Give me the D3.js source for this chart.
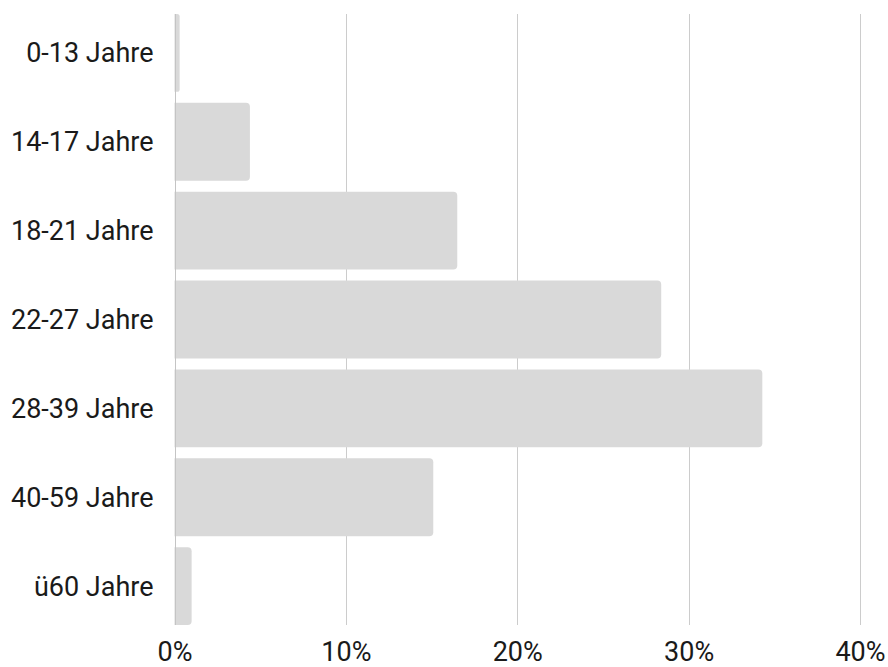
<!DOCTYPE html>
<html>
<head>
<meta charset="utf-8">
<script src="https://cdn.jsdelivr.net/npm/d3@7"></script>
<style>
  html, body { margin: 0; padding: 0; background: #fff; }
  svg { display: block; font-family: Roboto, "Noto Sans", sans-serif; }
</style>
</head>
<body>
<svg id="chart" width="888" height="667"></svg>
<script>
// Altersgruppen und Anteile (in %)
const categories = ["0-13 Jahre", "14-17 Jahre", "18-21 Jahre", "22-27 Jahre", "28-39 Jahre", "40-59 Jahre", "ü60 Jahre"];
const shares = [0.3, 4.4, 16.5, 28.4, 34.3, 15.1, 1.0];
const tickValues = [0, 10, 20, 30, 40];

const svg = d3.select("#chart");
const plotLeft = 174.5, plotRight = 860, plotTop = 14, plotBottom = 625;

const x = d3.scaleLinear().domain([0, 40]).range([plotLeft, plotRight]);
const y = d3.scaleBand().domain(categories).range([plotTop, plotBottom]).paddingInner(0.124).paddingOuter(0);

// Gitterlinien
svg.append("g").selectAll("line").data(tickValues.filter(d => d > 0)).join("line")
  .attr("x1", d => Math.round(x(d)) + 0.5).attr("x2", d => Math.round(x(d)) + 0.5)
  .attr("y1", plotTop).attr("y2", plotBottom)
  .attr("stroke", "#cccccc").attr("stroke-width", 1);

// Balken mit abgerundeten rechten Ecken
function barPath(x0, x1, y0, h, r) {
  const w = x1 - x0;
  const rr = Math.min(r, w / 2, h / 2);
  return `M${x0},${y0}H${x1 - rr}Q${x1},${y0} ${x1},${y0 + rr}V${y0 + h - rr}Q${x1},${y0 + h} ${x1 - rr},${y0 + h}H${x0}Z`;
}

svg.append("g").selectAll("path").data(categories).join("path")
  .attr("d", (c, i) => barPath(x(0), x(shares[i]), y(c), y.bandwidth(), 4))
  .attr("fill", "#d9d9d9");

// Nulllinie
svg.append("line")
  .attr("x1", Math.round(x(0)) + 0.5).attr("x2", Math.round(x(0)) + 0.5)
  .attr("y1", plotTop).attr("y2", plotBottom)
  .attr("stroke", "#c4c4c4").attr("stroke-width", 1);

// Kategorienbeschriftung
const yAxis = svg.append("g").attr("transform", `translate(${plotLeft - 21},0)`)
  .call(d3.axisLeft(y).tickSize(0).tickPadding(0));
yAxis.select(".domain").remove();
yAxis.selectAll("text")
  .attr("font-size", 27).attr("font-family", "Roboto").attr("fill", "#1a1a1a")
  .attr("dy", "0.35em");

// Prozentachse
const xAxis = svg.append("g").attr("transform", `translate(0,${plotBottom})`)
  .call(d3.axisBottom(x).tickValues(tickValues).tickSize(0).tickPadding(0).tickFormat(d => d + "%"));
xAxis.select(".domain").remove();
xAxis.selectAll("text")
  .attr("font-size", 27).attr("font-family", "Roboto").attr("fill", "#1a1a1a")
  .attr("y", 35.5).attr("dy", 0);
</script>
</body>
</html>
